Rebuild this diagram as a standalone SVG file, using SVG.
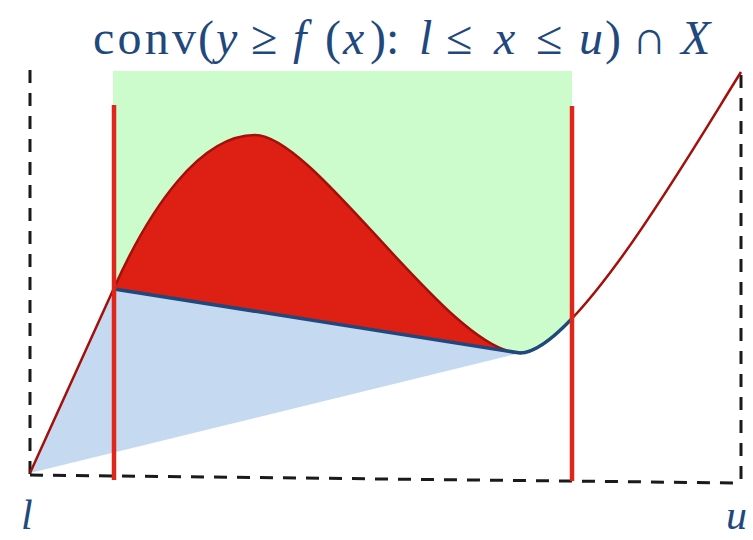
<svg xmlns="http://www.w3.org/2000/svg" width="753" height="540" viewBox="0 0 753 540">
<style>
.dash{fill:none;stroke:#1a1a1a;stroke-width:3;stroke-dasharray:13 10}
.bound{stroke:#e0261b;stroke-width:4.5;fill:none}
.lbl{font-family:"Liberation Serif","DejaVu Serif",serif;fill:#1f497d}
.it{font-style:italic}
</style>
<defs>
<clipPath id="above">
<path d="M30,473 C58,411 86,350 114,288 C150,208 200,135 255,135 C315,135 450,353 520,353 C575,353 695,145 741,72 L741,0 L30,0 Z"/>
</clipPath>
<clipPath id="leftOfU">
<rect x="0" y="0" width="572" height="540"/>
</clipPath>
</defs>
<g id="frame">
<line class="dash" x1="30" y1="70" x2="30" y2="475"/>
<line class="dash" x1="30" y1="475" x2="741" y2="483"/>
<line class="dash" x1="741" y1="75" x2="741" y2="483"/>
</g>
<g id="hull-region">
<rect x="113" y="71" width="459" height="420" fill="#ccfccc" clip-path="url(#above)"/>
</g>
<g id="relaxation">
<path d="M30,473 C58,411 86,350 114,288 L520,353 Z" fill="#c5d9f1"/>
</g>
<g id="gap">
<path d="M114,288 C150,208 200,135 255,135 C315,135 450,353 520,353 L114,289 Z" fill="#dd1f14"/>
</g>
<g id="function">
<path d="M30,473 C58,411 86,350 114,288 C150,208 200,135 255,135 C315,135 450,353 520,353 C575,353 695,145 741,72" fill="none" stroke="#a50f0a" stroke-width="2.5"/>
</g>
<g id="envelope">
<path d="M114,289 L520,353" fill="none" stroke="#1f497d" stroke-width="3.5"/>
<path d="M520,353 C575,353 695,145 741,72" fill="none" stroke="#1f497d" stroke-width="3.5" clip-path="url(#leftOfU)"/>
</g>
<g id="bounds">
<line class="bound" x1="114" y1="105" x2="114" y2="480"/>
<line class="bound" x1="572" y1="106" x2="572" y2="481"/>
</g>
<g id="labels">
<text class="lbl" y="54" font-size="48"><tspan x="93" textLength="103" lengthAdjust="spacing">conv</tspan><tspan x="198">(</tspan><tspan x="216" class="it">y</tspan><tspan x="251">≥</tspan><tspan x="293" class="it">f</tspan><tspan x="325">(</tspan><tspan x="343" class="it">x</tspan><tspan x="370">):</tspan><tspan x="419" class="it">l</tspan><tspan x="446">≤</tspan><tspan x="494" class="it">x</tspan><tspan x="536">≤</tspan><tspan x="579" class="it">u</tspan><tspan x="605">)</tspan><tspan x="632">∩</tspan><tspan x="681" class="it">X</tspan></text>
<text class="lbl it" x="21" y="529" font-size="42">l</text>
<text class="lbl it" x="726" y="529" font-size="42">u</text>
</g>
</svg>
